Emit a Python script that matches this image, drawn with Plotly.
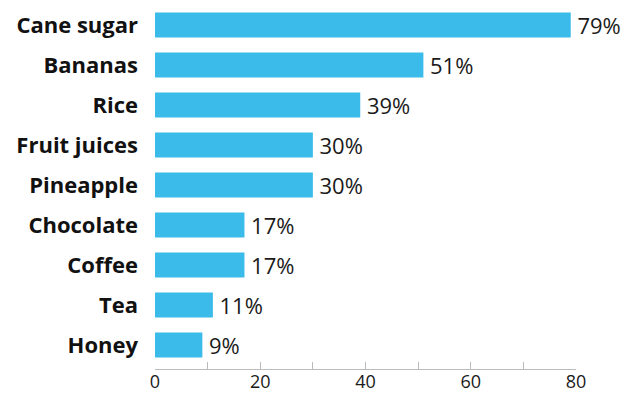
import plotly.graph_objects as go

categories = ["Cane sugar", "Bananas", "Rice", "Fruit juices", "Pineapple",
              "Chocolate", "Coffee", "Tea", "Honey"]
values = [79, 51, 39, 30, 30, 17, 17, 11, 9]
x_tick_vals = [0, 20, 40, 60, 80]

fig = go.Figure(go.Bar(
    x=values,
    y=categories,
    orientation="h",
    marker=dict(color="#3ABBEA", line=dict(width=0)),
    text=[f"\u2009{v}%" for v in values],
    textposition="outside",
    constraintext="none",
    textfont=dict(family="Open Sans", size=22, color="#1a1a1a"),
    cliponaxis=False,
    width=0.625,
))

fig.update_layout(
    width=629, height=394,
    margin=dict(l=155, r=53, t=5, b=25, autoexpand=False),
    plot_bgcolor="white", paper_bgcolor="white",
    showlegend=False,
    font=dict(family="Open Sans", color="#1a1a1a"),
    xaxis=dict(
        range=[0, 80],
        tickvals=x_tick_vals,
        automargin=False,
        ticks="inside", ticklen=7, tickcolor="#bbbbbb", tickwidth=1,
        minor=dict(dtick=10, tick0=0, ticks="inside", ticklen=7, tickcolor="#bbbbbb"),
        showgrid=False, zeroline=False,
        showline=True, linecolor="#bbbbbb", linewidth=1,
        ticklabelstandoff=-4,
        tickfont=dict(size=18, color="#1a1a1a"),
    ),
    yaxis=dict(
        categoryorder="array", categoryarray=categories,
        range=[8.6, -0.5],
        automargin=False,
        showgrid=False, zeroline=False, showline=False,
        ticks="",
        ticklabelstandoff=16,
        tickfont=dict(size=22, color="#111111", family="Open Sans", weight="bold"),
    ),
)

fig.write_html("out.html")
